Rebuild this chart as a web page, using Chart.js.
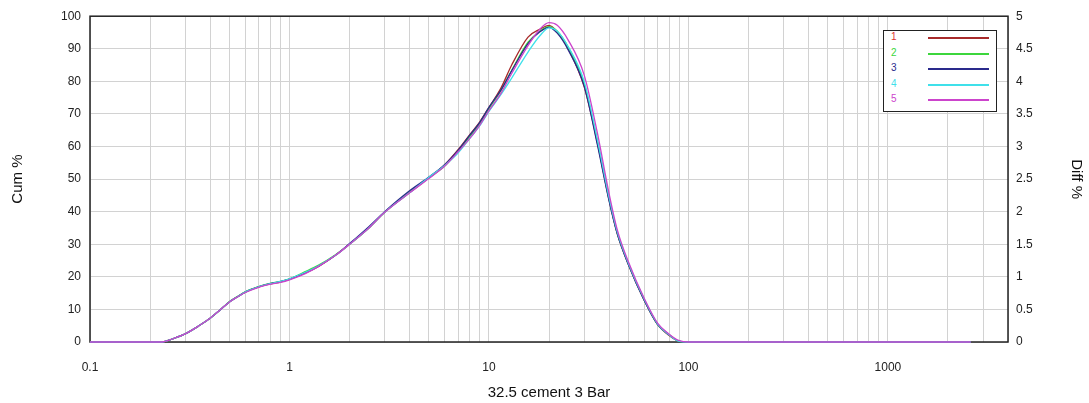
<!DOCTYPE html>
<html>
<head>
<meta charset="utf-8">
<script src="https://cdn.jsdelivr.net/npm/chart.js@4/dist/chart.umd.min.js"></script>
<style>
  body { margin: 0; background: #fff; }
  #wrap { position: relative; width: 1089px; height: 403px; }
  #legend {
    position: absolute; left: 883px; top: 30px; width: 114px; height: 82px;
    border: 1.5px solid #222; background: #fff; box-sizing: border-box;
    font-family: "Liberation Sans", Arial, sans-serif; font-size: 10px;
  }
  .row { position: absolute; left: 0; width: 100%; height: 12px; }
  .row span { position: absolute; left: 7px; top: -1px; }
  .row i { position: absolute; left: 44px; width: 61px; top: 5px; height: 2px; }
</style>
</head>
<body>
<div id="wrap">
  <canvas id="psd" width="1089" height="403"></canvas>
  <div id="legend"></div>
</div>
<script>
// Particle size (um) sample points
const sizes = [0.1, 0.2, 0.23, 0.26, 0.3, 0.35, 0.4, 0.45, 0.5, 0.55, 0.6, 0.7, 0.8, 0.9, 1,
  1.2, 1.4, 1.7, 2, 2.5, 3, 4, 5, 6, 7, 8, 9, 10, 11.5, 13, 15.7, 18, 20, 22, 25, 30, 35,
  40, 44, 50, 60, 70, 80, 90, 100, 200, 500, 1000, 2600];

// Diff % for each of the 5 runs
const run1 = [0, 0, 0, 0.05, 0.125, 0.245, 0.365, 0.495, 0.615, 0.695, 0.765, 0.845, 0.89, 0.92, 0.96,
  1.06, 1.16, 1.33, 1.5, 1.75, 1.99, 2.29, 2.52, 2.72, 2.95, 3.18, 3.38, 3.6, 3.9, 4.25, 4.68, 4.8, 4.86, 4.76, 4.5, 3.92, 3.05,
  2.18, 1.66, 1.19, 0.64, 0.27, 0.1, 0.01, 0, 0, 0, 0, 0];
const run2 = [0, 0, 0, 0.05, 0.125, 0.245, 0.365, 0.495, 0.62, 0.7, 0.77, 0.85, 0.9, 0.93, 0.97,
  1.08, 1.18, 1.34, 1.5, 1.75, 1.99, 2.3, 2.52, 2.7, 2.93, 3.15, 3.35, 3.58, 3.86, 4.17, 4.6, 4.77, 4.84, 4.77, 4.52, 3.97, 3.07,
  2.2, 1.67, 1.2, 0.65, 0.27, 0.11, 0.01, 0, 0, 0, 0, 0];
const run3 = [0, 0, 0, 0.05, 0.125, 0.245, 0.365, 0.495, 0.615, 0.695, 0.765, 0.845, 0.895, 0.925, 0.965,
  1.06, 1.165, 1.33, 1.51, 1.77, 2.0, 2.32, 2.53, 2.72, 2.94, 3.17, 3.37, 3.6, 3.87, 4.16, 4.58, 4.76, 4.83, 4.74, 4.48, 3.93, 3.02,
  2.17, 1.66, 1.19, 0.64, 0.27, 0.11, 0.01, 0, 0, 0, 0, 0];
const run4 = [0, 0, 0, 0.05, 0.125, 0.245, 0.365, 0.495, 0.615, 0.695, 0.765, 0.845, 0.895, 0.93, 0.97,
  1.07, 1.17, 1.33, 1.5, 1.75, 1.99, 2.29, 2.53, 2.71, 2.9, 3.12, 3.32, 3.54, 3.8, 4.05, 4.45, 4.7, 4.82, 4.77, 4.53, 4.0, 3.1,
  2.22, 1.69, 1.21, 0.66, 0.28, 0.11, 0.01, 0, 0, 0, 0, 0];
const run5 = [0, 0, 0, 0.05, 0.125, 0.245, 0.365, 0.495, 0.615, 0.695, 0.76, 0.84, 0.885, 0.915, 0.955,
  1.05, 1.16, 1.33, 1.5, 1.75, 1.99, 2.29, 2.51, 2.7, 2.92, 3.12, 3.33, 3.55, 3.82, 4.12, 4.55, 4.8, 4.9, 4.86, 4.63, 4.1, 3.2,
  2.28, 1.72, 1.23, 0.67, 0.29, 0.12, 0.02, 0, 0, 0, 0, 0];

const runs = [run1, run2, run3, run4, run5];
const runNames = ['1', '2', '3', '4', '5'];
const runColors = ['#a82a2a', '#3cd63c', '#2a2a8c', '#3fe0ea', '#cc44cc'];
const labelColors = ['#e03030', '#3cd63c', '#2a2a8c', '#3fe0ea', '#cc44cc'];

// Axis ticks
const xMin = 0.1;
const xMax = 4000;
const xGridValues = [];
[0.1, 1, 10, 100, 1000].forEach(d => {
  for (let k = 1; k <= 9; k++) {
    if (d * k <= xMax) xGridValues.push(d * k);
  }
});
const xTickLabels = ['0.1', '1', '10', '100', '1000'];
const xTitle = '32.5 cement 3 Bar';
const cumTitle = 'Cum %';
const diffTitle = 'Diff %';

const font = "'Liberation Sans', Arial, sans-serif";

// Black frame around the plot area
const framePlugin = {
  id: 'frame',
  beforeDatasetsDraw(chart) {
    const a = chart.chartArea;
    const ctx = chart.ctx;
    ctx.save();
    ctx.strokeStyle = '#222';
    ctx.lineWidth = 1.5;
    ctx.strokeRect(a.left, a.top, a.right - a.left, a.bottom - a.top);
    ctx.restore();
  }
};

const datasets = runs.map((r, i) => ({
  label: runNames[i],
  data: sizes.map((s, j) => ({ x: s, y: r[j] })),
  borderColor: runColors[i],
  borderWidth: 1.3,
  pointRadius: 0,
  fill: false,
  clip: false,
  cubicInterpolationMode: 'monotone',
  yAxisID: 'y1',
  order: 4 - i
}));

new Chart(document.getElementById('psd'), {
  type: 'line',
  data: { datasets: datasets },
  options: {
    responsive: false,
    animation: false,
    devicePixelRatio: 1,
    layout: { padding: { top: 16, left: 0, right: 0, bottom: 0 } },
    plugins: { legend: { display: false }, tooltip: { enabled: false } },
    scales: {
      x: {
        type: 'logarithmic',
        min: xMin,
        max: xMax,
        afterBuildTicks: scale => { scale.ticks = xGridValues.map(v => ({ value: v })); },
        afterFit: scale => { scale.height = 61; },
        grid: { color: '#d2d2d2', drawTicks: false },
        border: { display: false },
        ticks: {
          autoSkip: false, maxRotation: 0, padding: 18, color: '#222',
          font: { family: font, size: 12 },
          callback: v => {
            const idx = [0.1, 1, 10, 100, 1000].findIndex(d => Math.abs(v - d) < d * 1e-6);
            return idx >= 0 ? xTickLabels[idx] : '';
          }
        },
        title: { display: true, text: xTitle, color: '#111', font: { family: font, size: 15 }, padding: { top: 0, bottom: 1 } }
      },
      y: {
        position: 'left',
        min: 0, max: 100,
        afterFit: scale => { scale.width = 90; },
        grid: { color: '#d2d2d2', drawTicks: false },
        border: { display: false },
        ticks: { stepSize: 10, padding: 9, color: '#222', font: { family: font, size: 12 } },
        title: { display: true, text: cumTitle, color: '#111', font: { family: font, size: 15 }, padding: { top: 9, bottom: 0 } }
      },
      y1: {
        position: 'right',
        min: 0, max: 5,
        afterFit: scale => { scale.width = 81; },
        grid: { display: false, drawTicks: false },
        border: { display: false },
        ticks: { stepSize: 0.5, padding: 8, color: '#222', font: { family: font, size: 12 }, callback: v => String(v) },
        title: { display: true, text: diffTitle, color: '#111', font: { family: font, size: 15 }, padding: { top: 4, bottom: 0 } }
      }
    }
  },
  plugins: [framePlugin]
});

// Legend box: run number on the left, line sample on the right
const legend = document.getElementById('legend');
runNames.forEach((n, i) => {
  const row = document.createElement('div');
  row.className = 'row';
  row.style.top = (1 + i * 15.5) + 'px';
  row.innerHTML = `<span style="color:${labelColors[i]}">${n}</span><i style="background:${runColors[i]}"></i>`;
  legend.appendChild(row);
});
</script>
</body>
</html>
